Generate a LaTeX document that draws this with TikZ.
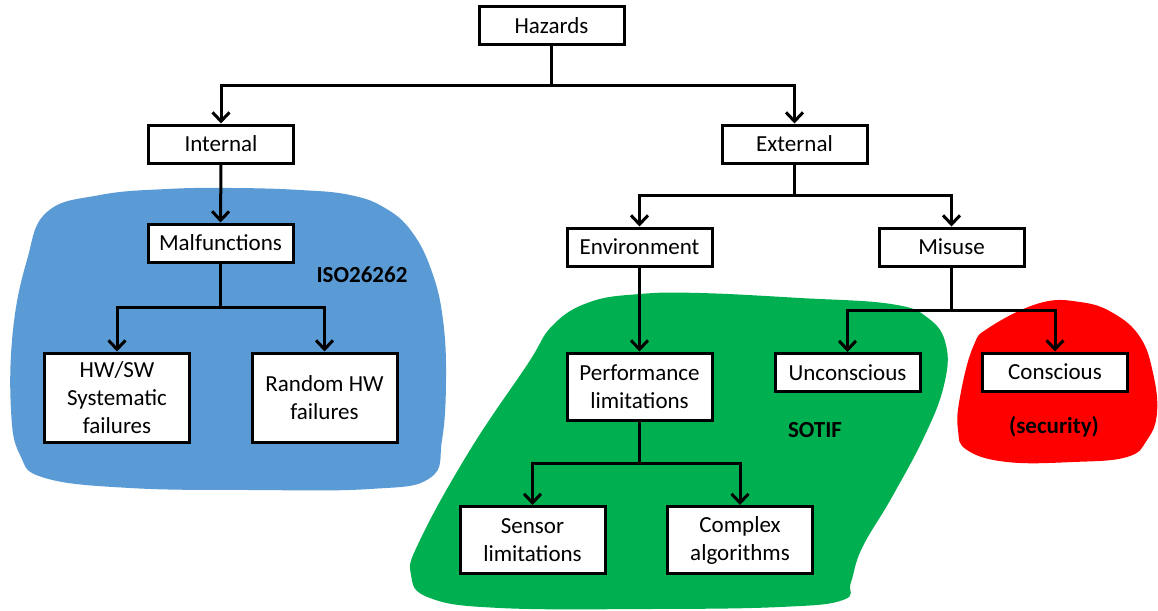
\documentclass[tikz,border=0pt]{standalone}
\usepackage{fontspec}
\setmainfont{Carlito}
\usetikzlibrary{arrows.meta}
\definecolor{isoblue}{HTML}{5B9BD5}
\definecolor{sotifgreen}{HTML}{00B050}
\definecolor{secred}{HTML}{FF0000}
\begin{document}
\begin{tikzpicture}[x=1pt,y=-1pt,
  font=\fontsize{23}{28}\selectfont,
  box/.style={draw=black, line width=3pt, fill=white, align=center,
    minimum width=145pt, minimum height=38pt, inner sep=0pt},
  box2/.style={box, minimum height=67pt},
  box3/.style={box, minimum height=89pt},
  link/.style={line width=3pt, -{Straight Barb[length=9pt,width=17pt]}},
  trunk/.style={line width=3pt},
  tag/.style={font=\fontsize{23}{28}\selectfont\bfseries, inner sep=0pt},
  blob/.style={smooth cycle, tension=0.7}]
\useasboundingbox (0,0) rectangle (1158,610);
\fill[white] (0,0) rectangle (1158,610);

% coloured regions
\fill[isoblue] plot[blob] coordinates {(47,212) (100,195) (167,189) (233,188)
  (300,190) (350,195) (385,208) (412,232) (432,272) (443,320) (446,380)
  (442,440) (430,478) (370,489) (250,490) (130,488) (45,478) (20,455)
  (11,410) (13,330) (27,260)};
\fill[sotifgreen] plot[blob] coordinates {(553,325) (590,302) (640,294)
  (700,293) (800,298) (891,304) (928,318) (946,345) (944,385) (925,435)
  (892,497) (862,548) (851,582) (843,600) (780,607) (650,609) (500,608)
  (430,598) (411,575) (420,540) (470,450) (527,365)};
\fill[secred] plot[blob] coordinates {(990,327) (1040,303) (1080,302)
  (1113,313) (1140,337) (1153,373) (1157,413) (1147,440) (1127,457)
  (1073,462) (1007,462) (967,450) (958,430) (960,397) (973,347)};

% boxes
\node[box]  (haz)  at (551.5,26)  {Hazards};
\node[box]  (int)  at (221,144)   {Internal};
\node[box]  (ext)  at (794.5,144) {External};
\node[box]  (mal)  at (220.5,243) {Malfunctions};
\node[box3] (sys)  at (117,397.5) {HW/SW\\Systematic\\failures};
\node[box3] (rnd)  at (324.5,397.5) {Random HW\\failures};
\node[box]  (env)  at (639.5,247) {Environment};
\node[box]  (mis)  at (951.5,247) {Misuse};
\node[box2] (perf) at (639.5,386.5) {Performance\\limitations};
\node[box]  (unc)  at (847.5,372.5) {Unconscious};
\node[box]  (con)  at (1055,372)  {Conscious};
\node[box2] (sen)  at (532.5,540) {Sensor\\limitations};
\node[box2] (cpx)  at (740,540)   {Complex\\algorithms};

% region labels
\node[tag] (iso)   at (362,275)  {ISO26262};
\node[tag] (sotif) at (815,430)  {SOTIF};
\node[tag] (sec)   at (1054,427) {(security)};

% branch points
\coordinate (jh) at (551.5,85);
\coordinate (jm) at (220.5,307);
\coordinate (je) at (794.5,195);
\coordinate (ju) at (951.5,310);
\coordinate (jp) at (639.5,463);

% connectors
\draw[trunk] (haz.south) -- (jh);
\draw[link] (jh) -| (int.north);
\draw[link] (jh) -| (ext.north);
\draw[link] (int.south) -- (mal.north);
\draw[trunk] (mal.south) -- (jm);
\draw[link] (jm) -| (sys.north);
\draw[link] (jm) -| (rnd.north);
\draw[trunk] (ext.south) -- (je);
\draw[link] (je) -| (env.north);
\draw[link] (je) -| (mis.north);
\draw[link] (env.south) -- (perf.north);
\draw[trunk] (mis.south) -- (ju);
\draw[link] (ju) -| (unc.north);
\draw[link] (ju) -| (con.north);
\draw[trunk] (perf.south) -- (jp);
\draw[link] (jp) -| (sen.north);
\draw[link] (jp) -| (cpx.north);
\end{tikzpicture}
\end{document}
